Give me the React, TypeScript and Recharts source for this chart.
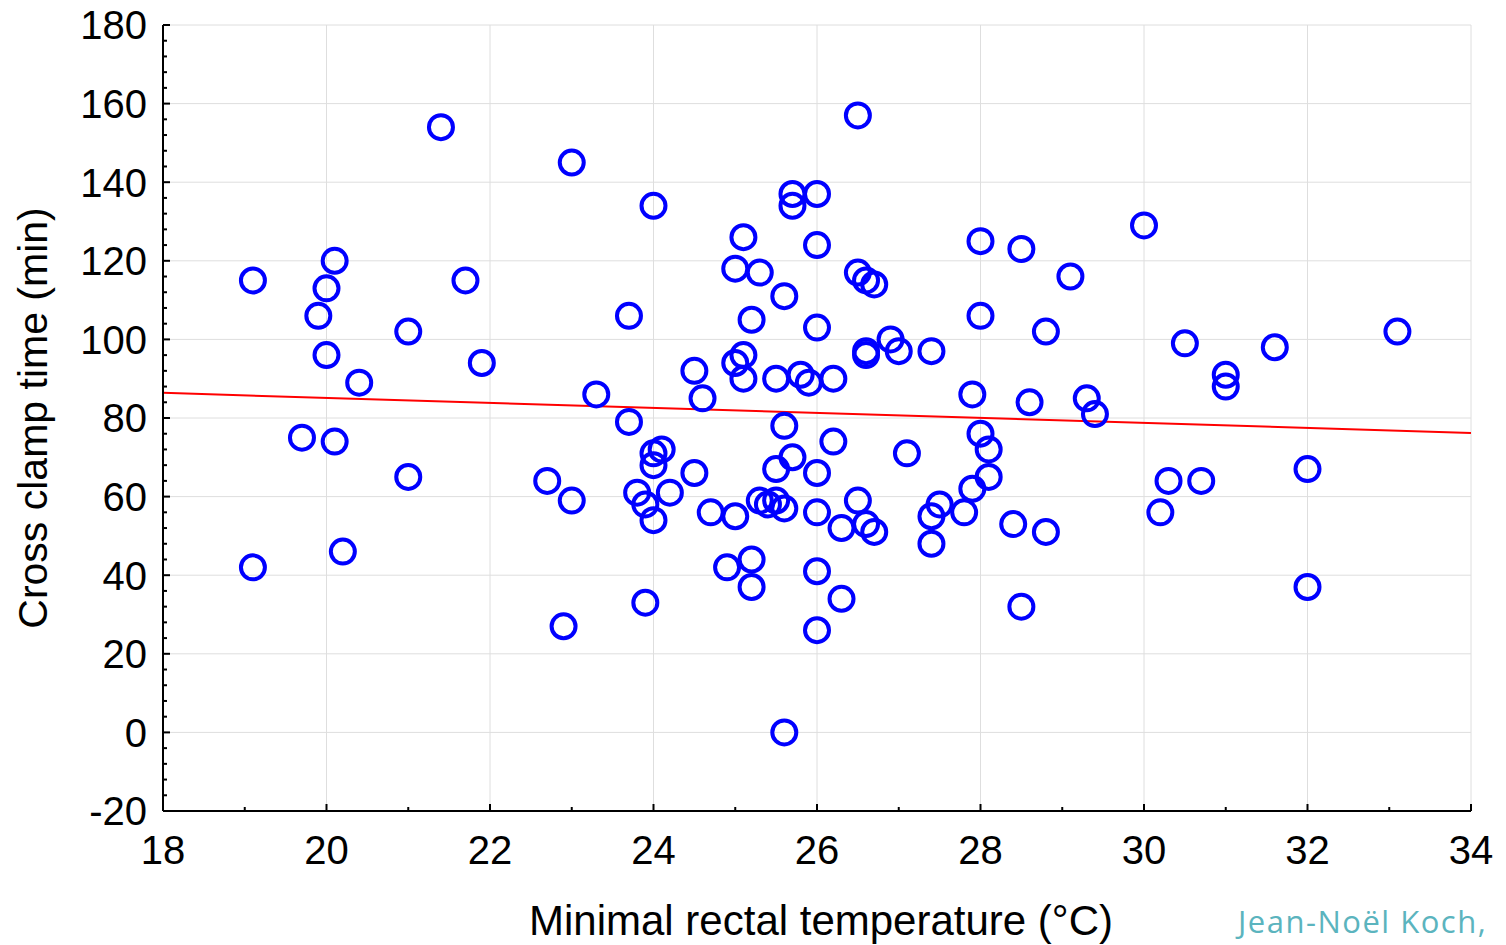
import React from 'react';
import { ScatterChart, Scatter, XAxis, YAxis, CartesianGrid, ReferenceLine } from 'recharts';

// Minimal rectal temperature (°C)
const temperatures = [
  19.1, 19.1, 19.7, 19.9, 20.0, 20.1, 20.0, 20.1, 20.2, 20.4,
  21.0, 21.0, 21.4, 21.7, 21.9, 22.7, 22.9, 23.0, 23.0, 23.3,
  23.7, 23.7, 23.8, 23.9, 23.9, 24.0, 24.0, 24.0, 24.1, 24.0,
  24.2, 24.5, 24.5, 24.6, 24.7, 24.9, 25.0, 25.0, 25.1, 25.1,
  25.1, 25.0, 25.2, 25.2, 25.2, 25.3, 25.3, 25.4, 25.5, 25.5,
  25.5, 25.6, 25.6, 25.6, 25.6, 25.7, 25.7, 25.7, 25.8, 25.9,
  26.0, 26.0, 26.0, 26.0, 26.0, 26.0, 26.0, 26.2, 26.2, 26.3,
  26.3, 26.5, 26.5, 26.5, 26.6, 26.6, 26.6, 26.7, 26.6, 26.7,
  26.9, 27.0, 27.1, 27.4, 27.5, 27.4, 27.4, 27.8, 27.9, 27.9,
  28.0, 28.0, 28.0, 28.1, 28.1, 28.4, 28.5, 28.5, 28.6, 28.8,
  28.8, 29.1, 29.3, 29.4, 30.0, 30.2, 30.3, 30.5, 30.7, 31.0,
  31.0, 31.6, 32.0, 32.0, 33.1,
];

// Cross clamp time (min)
const clampTimes = [
  115, 42, 75, 106, 113, 120, 96, 74, 46, 89,
  102, 65, 154, 115, 94, 64, 27, 145, 59, 86,
  106, 79, 61, 58, 33, 134, 71, 68, 72, 54,
  61, 92, 66, 85, 56, 42, 118, 94, 96, 90,
  126, 55, 105, 44, 37, 117, 59, 58, 59, 67,
  90, 111, 78, 57, 0, 137, 134, 70, 91, 89,
  137, 124, 103, 66, 56, 41, 26, 90, 74, 52,
  34, 157, 117, 59, 115, 97, 96, 114, 53, 51,
  100, 97, 71, 97, 58, 55, 48, 56, 86, 62,
  125, 106, 76, 72, 65, 53, 123, 32, 84, 102,
  51, 116, 85, 81, 129, 56, 64, 99, 64, 91,
  88, 98, 67, 37, 102,
];

// Fitted regression line, read at the plot edges
const trendX = [18, 34];
const trendY = [86.4, 76.2];

const xMajorTicks = [18, 20, 22, 24, 26, 28, 30, 32, 34];
const xAllTicks = [18, 19, 20, 21, 22, 23, 24, 25, 26, 27, 28, 29, 30, 31, 32, 33, 34];
const yMajorTicks = [-20, 0, 20, 40, 60, 80, 100, 120, 140, 160, 180];
const yAllTicks = [
  -20, -16, -12, -8, -4, 0, 4, 8, 12, 16, 20, 24, 28, 32, 36, 40, 44, 48, 52, 56,
  60, 64, 68, 72, 76, 80, 84, 88, 92, 96, 100, 104, 108, 112, 116, 120, 124, 128,
  132, 136, 140, 144, 148, 152, 156, 160, 164, 168, 172, 176, 180,
];

const xLabel = 'Minimal rectal temperature (°C)';
const yLabel = 'Cross clamp time (min)';
const credit = 'Jean-Noël Koch,';

const points = temperatures.map((t, i) => ({ x: t, y: clampTimes[i] }));
const trendSegment = trendX.map((x, i) => ({ x, y: trendY[i] }));

const FONT = '"Liberation Sans", Arial, sans-serif';
const MAJOR = 7;
const MINOR = 4;

const BottomTick = (props: any) => {
  const { x, y, payload } = props;
  const major = xMajorTicks.includes(payload.value);
  return (
    <g>
      <line x1={x} y1={y} x2={x} y2={y - (major ? MAJOR : MINOR)} stroke="#000" strokeWidth={2} />
      {major && (
        <text x={x} y={y + 53} textAnchor="middle" fontFamily={FONT} fontSize={40} fill="#000">
          {payload.value}
        </text>
      )}
    </g>
  );
};

const TopTick = (props: any) => {
  const { x, y, payload } = props;
  const major = xMajorTicks.includes(payload.value);
  return <line x1={x} y1={y} x2={x} y2={y + (major ? MAJOR : MINOR)} stroke="#000" strokeWidth={2} />;
};

const LeftTick = (props: any) => {
  const { x, y, payload } = props;
  const major = yMajorTicks.includes(payload.value);
  return (
    <g>
      <line x1={x} y1={y} x2={x + (major ? MAJOR : MINOR)} y2={y} stroke="#000" strokeWidth={2} />
      {major && (
        <text x={x - 16} y={y} dy="0.36em" textAnchor="end" fontFamily={FONT} fontSize={40} fill="#000">
          {payload.value}
        </text>
      )}
    </g>
  );
};

const RightTick = (props: any) => {
  const { x, y, payload } = props;
  const major = yMajorTicks.includes(payload.value);
  return <line x1={x} y1={y} x2={x - (major ? MAJOR : MINOR)} y2={y} stroke="#000" strokeWidth={2} />;
};

const XLabel = (props: any) => {
  const vb = props.viewBox || {};
  const cx = vb.x + vb.width / 2 + 4;
  return (
    <text x={cx} y={vb.y + 124} textAnchor="middle" fontFamily={FONT} fontSize={42} fill="#000">
      {xLabel}
    </text>
  );
};

const YLabel = (props: any) => {
  const vb = props.viewBox || {};
  const cx = vb.x + 47;
  const cy = vb.y + vb.height / 2;
  return (
    <text x={cx} y={cy} transform={`rotate(-90 ${cx} ${cy})`} textAnchor="middle" fontFamily={FONT} fontSize={41} fill="#000">
      {yLabel}
    </text>
  );
};

const Ring = (props: any) => {
  const { cx, cy } = props;
  if (cx == null || cy == null) return null;
  return <circle cx={cx} cy={cy} r={12} fill="none" stroke="#0000ff" strokeWidth={4} />;
};

export default function App() {
  return (
    <div style={{ position: 'absolute', left: 0, top: 0, width: 1506, height: 945, background: '#fff', overflow: 'hidden' }}>
      <ScatterChart width={1506} height={945} margin={{ top: 25, right: 35, bottom: 0, left: 0 }}>
        <CartesianGrid stroke="#dedede" strokeWidth={1} verticalValues={xMajorTicks} horizontalValues={yMajorTicks} />
        <XAxis
          xAxisId={0}
          dataKey="x"
          type="number"
          domain={[18, 34]}
          ticks={xAllTicks}
          interval={0}
          height={134}
          tickLine={false}
          tickSize={0}
          tickMargin={0}
          tick={<BottomTick />}
          axisLine={{ stroke: '#000', strokeWidth: 2 }}
          allowDataOverflow
          label={<XLabel />}
        />
        <XAxis
          xAxisId="top"
          orientation="top"
          type="number"
          domain={[18, 34]}
          ticks={xAllTicks}
          interval={0}
          height={0}
          tickLine={false}
          tickSize={0}
          tickMargin={0}
          tick={<TopTick />}
          axisLine={{ stroke: '#000', strokeWidth: 2 }}
          allowDataOverflow
        />
        <YAxis
          yAxisId={0}
          dataKey="y"
          type="number"
          domain={[-20, 180]}
          ticks={yAllTicks}
          interval={0}
          width={163}
          tickLine={false}
          tickSize={0}
          tickMargin={0}
          tick={<LeftTick />}
          axisLine={{ stroke: '#000', strokeWidth: 2 }}
          allowDataOverflow
          label={<YLabel />}
        />
        <YAxis
          yAxisId="right"
          orientation="right"
          type="number"
          domain={[-20, 180]}
          ticks={yAllTicks}
          interval={0}
          width={0}
          tickLine={false}
          tickSize={0}
          tickMargin={0}
          tick={<RightTick />}
          axisLine={{ stroke: '#000', strokeWidth: 2 }}
          allowDataOverflow
        />
        <Scatter data={points} shape={<Ring />} isAnimationActive={false} />
        <ReferenceLine
          segment={trendSegment}
          stroke="#ff0000"
          strokeWidth={2}
          ifOverflow="visible"
        />
      </ScatterChart>
      <div
        style={{
          position: 'absolute',
          left: 1238,
          top: 905,
          fontFamily: '"Open Sans", sans-serif',
          fontSize: 31,
          letterSpacing: 1.5,
          color: '#5bb4be',
          whiteSpace: 'nowrap',
          lineHeight: '32px',
        }}
      >
        {credit}
      </div>
    </div>
  );
}
